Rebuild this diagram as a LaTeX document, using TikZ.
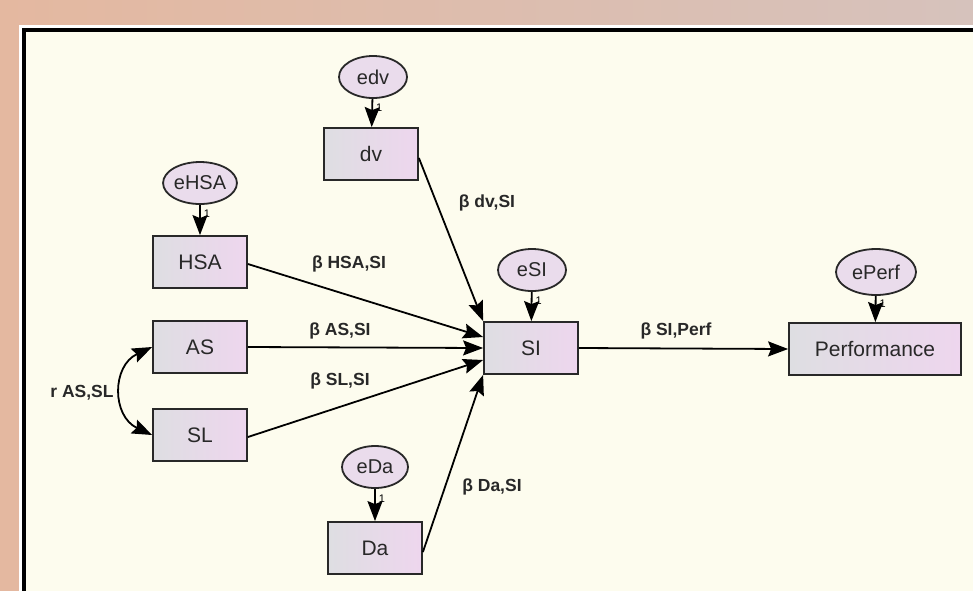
\documentclass[tikz,border=0pt]{standalone}
\usepackage{fontspec}
\setmainfont{Liberation Sans}
\usetikzlibrary{positioning, shapes.geometric, arrows.meta, calc}
\definecolor{peachL}{RGB}{228,184,160}
\definecolor{peachR}{RGB}{214,194,188}
\definecolor{cream}{RGB}{253,252,238}
\definecolor{boxL}{RGB}{222,222,226}
\definecolor{boxR}{RGB}{238,214,238}
\definecolor{errfill}{RGB}{234,220,236}
\definecolor{ink}{RGB}{40,40,40}

\begin{document}
\begin{tikzpicture}
        [
            x=1pt, y=-1pt,
            obs/.style={rectangle, draw=ink, line width=1.8pt, left color=boxL,
                        right color=boxR, minimum width=94pt, minimum height=52pt,
                        inner sep=0pt, text=ink, font=\fontsize{21}{24}\selectfont},
            err/.style={ellipse, draw=ink, line width=1.8pt, fill=errfill,
                        minimum width=#1, minimum height=42pt, inner sep=0pt,
                        text=ink, font=\fontsize{20}{23}\selectfont},
            err/.default=72pt,
            coef/.style={text=ink, font=\bfseries\fontsize{17.5}{20}\selectfont},
            one/.style={font=\fontsize{11}{13}\selectfont, right, inner sep=1pt,
                        xshift=2pt},
            tip/.tip={Stealth[length=20pt, width=15pt, inset=3pt]},
            path/.style={-tip, line width=1.8pt}
        ]
        % background and frame
        \useasboundingbox (0,0) rectangle (973,590);
        \fill [left color=peachL, right color=peachR] (0,0) rectangle (973,590);
        \fill [white] (19,25) rectangle (990,610);
        \fill [cream] (24,30) rectangle (990,610);
        \draw [line width=4pt] (24,30) -- (24,610);
        \draw [line width=4pt] (22,30) -- (990,30);

        % observed variables
        \node (dv) [obs] at (371,154) {dv};
        \node (HSA) [obs] at (200,262) {HSA};
        \node (AS) [obs] at (200,347) {AS};
        \node (SL) [obs] at (200,435) {SL};
        \node (SI) [obs] at (531,348) {SI};
        \node (Da) [obs] at (375,548) {Da};
        \node (Perf) [obs, minimum width=172pt] at (875,349) {Performance};

        % error terms
        \node (edv) [err=68pt] at (373,77) {edv};
        \node (eHSA) [err] at (200,183) {eHSA};
        \node (eSI) [err=68pt] at (532,270) {eSI};
        \node (ePerf) [err=80pt, minimum height=46pt] at (876,272) {ePerf};
        \node (eDa) [err=66pt] at (375,467) {eDa};
        \foreach \e/\v in {edv/dv,eHSA/HSA,eSI/SI,ePerf/Perf,eDa/Da}
            \draw [path] (\e) -- node [one, pos=0.3] {1} (\v);

        % regression paths
        \draw [path] ([yshift=-4pt]dv.east) -- (SI.north west);
        \draw [path] ([yshift=-2pt]HSA.east) -- ([yshift=11pt]SI.west);
        \draw [path] (AS.east) -- (SI.west);
        \draw [path] ([yshift=-2pt]SL.east) -- ([yshift=-12pt]SI.west);
        \draw [path] ([yshift=-4pt]Da.east) -- (SI.south west);
        \draw [path] (SI.east) -- (Perf.west);
        \draw [tip-tip, line width=1.8pt]
            (AS.west) to [out=205, in=155, looseness=1.3] (SL.west);

        % coefficients
        \node (cdv) [coef] at (487,203) {β dv,SI};
        \node (cHSA) [coef] at (349,264) {β HSA,SI};
        \node (cAS) [coef] at (340,331) {β AS,SI};
        \node (cSL) [coef] at (340,381) {β SL,SI};
        \node (cDa) [coef] at (492,487) {β Da,SI};
        \node (cPerf) [coef] at (676,331) {β SI,Perf};
        \node (rASSL) [coef] at (82,393) {r AS,SL};
\end{tikzpicture}
\end{document}
